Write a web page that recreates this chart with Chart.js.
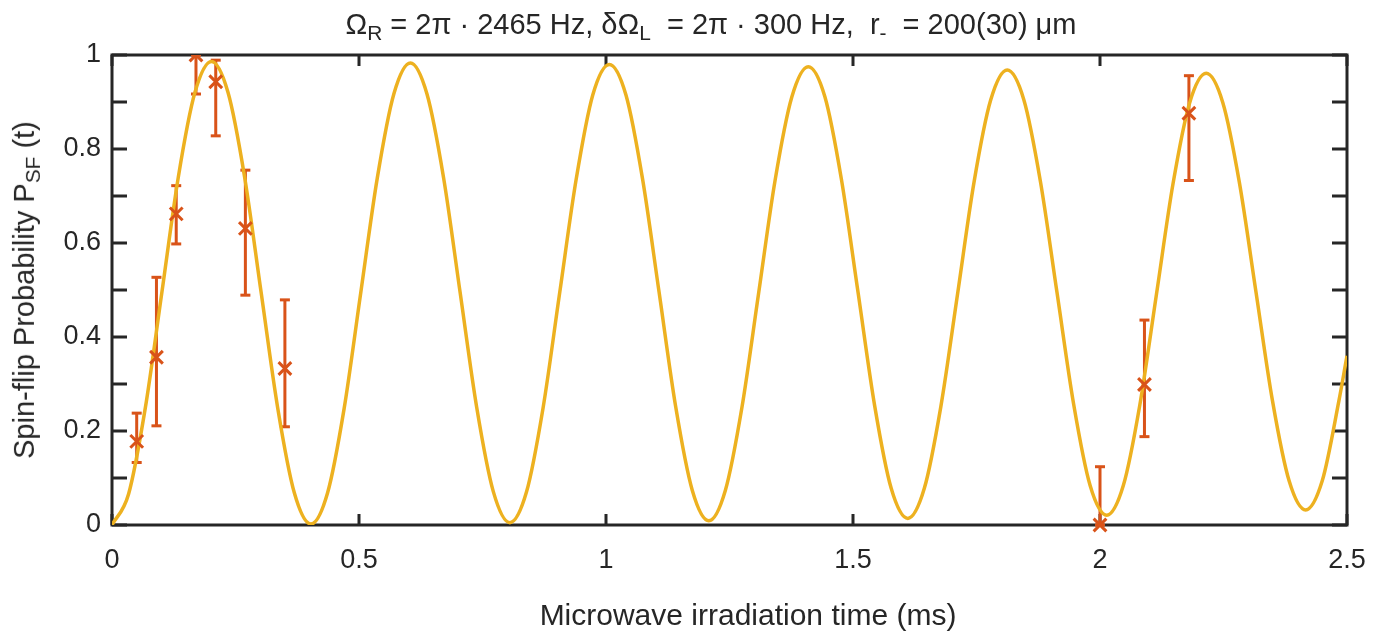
<!DOCTYPE html>
<html>
<head>
<meta charset="utf-8">
<script src="https://cdn.jsdelivr.net/npm/chart.js@4"></script>
<style>
  body { margin: 0; background: #fff; }
  #wrap { position: relative; width: 1376px; height: 632px; font-family: "Liberation Sans", Arial, sans-serif; color: #262626; }
  #chart { position: absolute; left: 0; top: 0; }
  .lbl { position: absolute; white-space: nowrap; line-height: 1; }
  .lbl sub { font-size: 0.72em; vertical-align: -0.3em; }
  #title { left: 711px; top: 27px; font-size: 29px; transform: translate(-50%, -50%); }
  #xtitle { left: 748px; top: 615px; font-size: 30px; transform: translate(-50%, -50%); }
  #ytitle { left: 27px; top: 290px; font-size: 29px; transform: translate(-50%, -50%) rotate(-90deg); }
</style>
</head>
<body>
<div id="wrap">
  <canvas id="chart" width="1376" height="632"></canvas>
  <div class="lbl" id="title">Ω<sub>R</sub> = 2π · 2465 Hz, δΩ<sub>L</sub>&nbsp; = 2π · 300 Hz,&nbsp; r<sub>-</sub>&nbsp; = 200(30) μm</div>
  <div class="lbl" id="xtitle">Microwave irradiation time (ms)</div>
  <div class="lbl" id="ytitle">Spin-flip Probability P<sub>SF</sub> (t)</div>
</div>
<script>
// fitted Rabi curve
const fitT = [
  0, 0.0336, 0.0671, 0.1007, 0.1342, 0.1678, 0.2014, 0.2349, 0.2685, 0.3020, 0.3356, 0.3692,
  0.4027, 0.4363, 0.4698, 0.5034, 0.5370, 0.5705, 0.6041, 0.6376, 0.6712, 0.7048, 0.7383, 0.7719,
  0.8054, 0.8390, 0.8726, 0.9061, 0.9397, 0.9732, 1.0068, 1.0404, 1.0739, 1.1075, 1.1410, 1.1746,
  1.2082, 1.2417, 1.2753, 1.3088, 1.3424, 1.3760, 1.4095, 1.4431, 1.4766, 1.5102, 1.5438, 1.5773,
  1.6109, 1.6444, 1.6780, 1.7116, 1.7451, 1.7787, 1.8122, 1.8458, 1.8794, 1.9129, 1.9465, 1.9800,
  2.0136, 2.0472, 2.0807, 2.1143, 2.1478, 2.1814, 2.2150, 2.2485, 2.2821, 2.3156, 2.3492, 2.3828,
  2.4163, 2.4499, 2.4834, 2.5
];
const fitP = [
  0, 0.066, 0.247, 0.493, 0.740, 0.920, 0.986, 0.920, 0.740, 0.494, 0.248, 0.068,
  0.002, 0.068, 0.247, 0.493, 0.738, 0.917, 0.983, 0.917, 0.739, 0.494, 0.250, 0.071,
  0.005, 0.070, 0.249, 0.493, 0.736, 0.915, 0.980, 0.915, 0.737, 0.495, 0.252, 0.074,
  0.009, 0.074, 0.251, 0.492, 0.734, 0.910, 0.975, 0.911, 0.735, 0.495, 0.254, 0.078,
  0.014, 0.078, 0.253, 0.491, 0.730, 0.904, 0.968, 0.905, 0.731, 0.495, 0.258, 0.084,
  0.021, 0.084, 0.256, 0.491, 0.726, 0.898, 0.961, 0.899, 0.729, 0.497, 0.264, 0.094,
  0.032, 0.094, 0.263, 0.36
];

// measured points with error bars
const expT  = [0.05, 0.09, 0.13, 0.17, 0.21, 0.27, 0.35, 2.00, 2.09, 2.18];
const expP  = [0.178, 0.357, 0.662, 1.0, 0.943, 0.631, 0.333, 0.0, 0.299, 0.876];
const expLo = [0.133, 0.211, 0.598, 0.917, 0.828, 0.489, 0.209, 0.0, 0.188, 0.733];
const expHi = [0.238, 0.527, 0.722, 1.0, 0.989, 0.755, 0.479, 0.124, 0.436, 0.956];

const xTicks = [0, 0.5, 1, 1.5, 2, 2.5];
const yLabels = [0, 0.2, 0.4, 0.6, 0.8, 1];

const axisColor = '#262626';
const tickFont = { family: '"Liberation Sans", Arial, sans-serif', size: 27 };

const errData = [];
expT.forEach((t, i) => {
  errData.push({ x: t, y: expLo[i] }, { x: t, y: expHi[i] }, { x: t, y: null });
});

// box around the plot with inward ticks on all four sides
const boxAxes = {
  id: 'boxAxes',
  beforeDatasetsDraw(chart) {
    const { ctx, chartArea: a, scales } = chart;
    ctx.save();
    ctx.strokeStyle = axisColor;
    ctx.lineWidth = 3;
    ctx.beginPath();
    scales.y.ticks.forEach(t => {
      const py = scales.y.getPixelForValue(t.value);
      ctx.moveTo(a.left, py); ctx.lineTo(a.left + 15, py);
      ctx.moveTo(a.right, py); ctx.lineTo(a.right - 15, py);
    });
    scales.x.ticks.forEach(t => {
      const px = scales.x.getPixelForValue(t.value);
      ctx.moveTo(px, a.bottom); ctx.lineTo(px, a.bottom - 11);
      ctx.moveTo(px, a.top); ctx.lineTo(px, a.top + 11);
    });
    ctx.stroke();
    ctx.strokeRect(a.left, a.top, a.right - a.left, a.bottom - a.top);
    ctx.restore();
  }
};

new Chart(document.getElementById('chart'), {
  type: 'scatter',
  data: {
    datasets: [
      {
        label: 'data',
        data: expT.map((t, i) => ({ x: t, y: expP[i] })),
        pointStyle: 'crossRot',
        pointRadius: 9,
        pointBorderWidth: 3,
        borderColor: '#D95319',
        backgroundColor: '#D95319',
        showLine: false,
        clip: { left: 10, top: 0, right: 10, bottom: 10 },
        order: 1
      },
      {
        type: 'line',
        label: 'fit',
        data: fitT.map((t, i) => ({ x: t, y: fitP[i] })),
        borderColor: '#EDB120',
        borderWidth: 3.5,
        pointRadius: 0,
        cubicInterpolationMode: 'monotone',
        fill: false,
        order: 2
      },
      {
        type: 'line',
        label: 'errors',
        data: errData,
        borderColor: '#D95319',
        backgroundColor: '#D95319',
        borderWidth: 3,
        pointStyle: 'line',
        pointRadius: 5,
        pointBorderWidth: 3,
        spanGaps: false,
        fill: false,
        clip: { left: 10, top: 0, right: 10, bottom: 10 },
        order: 3
      }
    ]
  },
  options: {
    responsive: false,
    animation: false,
    devicePixelRatio: 1,
    layout: { padding: { left: 0, top: 55, right: 29, bottom: 0 } },
    plugins: {
      legend: { display: false },
      tooltip: { enabled: false },
      title: { display: false }
    },
    scales: {
      x: {
        type: 'linear',
        min: 0,
        max: 2.5,
        afterBuildTicks: s => { s.ticks = xTicks.map(v => ({ value: v })); },
        ticks: { color: axisColor, font: tickFont, padding: 19, maxRotation: 0, callback: v => String(v) },
        grid: { display: false, drawTicks: false },
        border: { display: false },
        afterFit: s => { s.height = 107; s.paddingLeft = 0; s.paddingRight = 0; }
      },
      y: {
        min: 0,
        max: 1,
        ticks: {
          stepSize: 0.1,
          color: axisColor,
          font: tickFont,
          padding: 11,
          callback: v => {
            const r = Math.round(v * 10) / 10;
            return yLabels.some(l => Math.abs(l - r) < 1e-6) ? String(r) : '';
          }
        },
        grid: { display: false, drawTicks: false },
        border: { display: false },
        afterFit: s => { s.width = 112; }
      }
    }
  },
  plugins: [boxAxes]
});
</script>
</body>
</html>
